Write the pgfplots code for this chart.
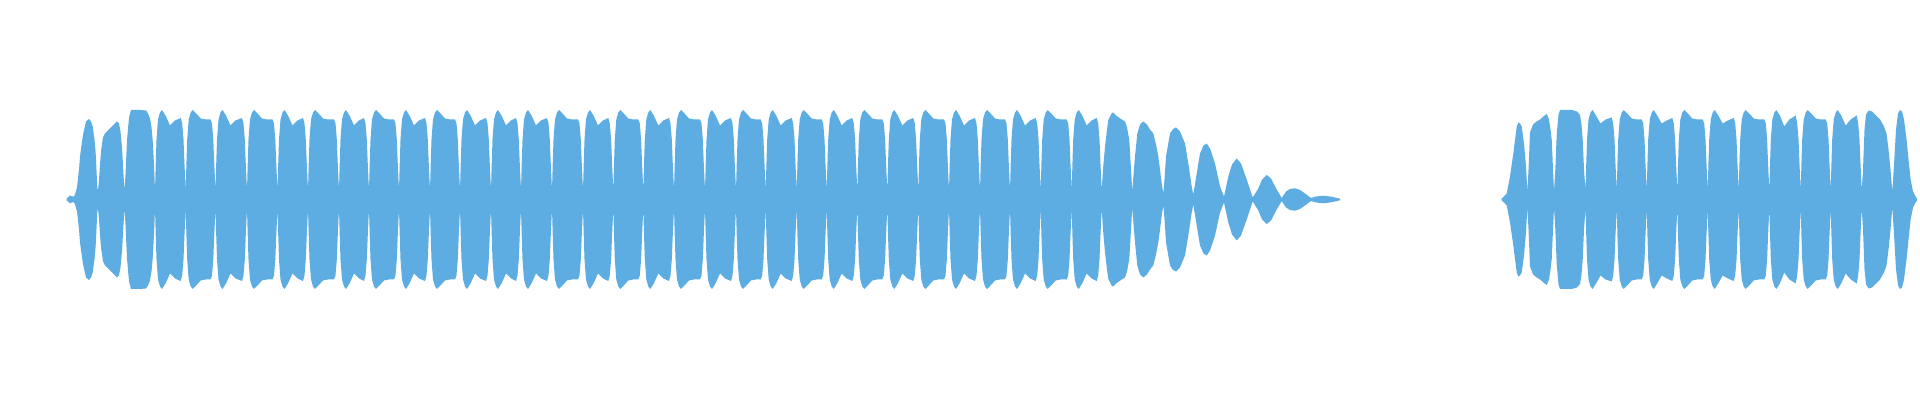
\documentclass[border=0pt]{standalone}
\usepackage{pgfplots}
\pgfplotsset{compat=1.18}
\usepackage{pgfplotstable}
\usepgfplotslibrary{fillbetween}
\definecolor{wave}{HTML}{5DADE2}

% upper envelope of the waveform, x in px, amplitude in px (mirrored below)
\pgfplotstableread[row sep=\\]{
x y \\
66.5 1 \\ 68 2 \\ 70 4 \\ 72 3 \\ 74 3 \\ 75 5 \\ 77 12 \\ 79 30 \\ 80 43 \\ 82 58 \\ 83.3 66 \\ 86 78 \\ 89 80.5 \\ 91 78 \\ 92.7 73 \\ 94.5 60 \\ 95.7 46 \\ 96.7 25 \\ 97.3 12 \\
98 9 \\ 99 20 \\ 100 35 \\ 101 48 \\ 103 62 \\ 105 66 \\ 108 69 \\ 111 72 \\ 114 75 \\ 117 78 \\ 119 76 \\ 120.5 68 \\ 122 52 \\ 123.5 25 \\
124.5 9 \\ 125.5 25 \\ 127 59 \\ 129 82 \\ 131 89.5 \\ 140 89.5 \\ 146 89 \\ 148 86 \\ 150 81 \\ 151.5 72 \\ 152.7 59 \\ 154 35 \\
155 9 \\ 155.7 35 \\ 156.5 60 \\ 158 80 \\ 160 87 \\ 162 89.5 \\ 165.5 84 \\ 170 74 \\ 175 79 \\ 180.7 81.5 \\ 182.2 76 \\ 183.5 60 \\ 184.5 35 \\
185.7 9 \\ 186.4 35 \\ 187.2 60 \\ 188.7 80 \\ 190.7 87 \\ 192.7 89.5 \\ 196.2 86 \\ 200.7 81 \\ 205.7 80 \\ 210.5 80 \\ 212 76 \\ 213.3 60 \\ 214.3 35 \\
215.5 9 \\ 216.2 35 \\ 217 60 \\ 218.5 80 \\ 220.5 87 \\ 222.5 89.5 \\ 226 84 \\ 230.5 74 \\ 235.5 79 \\ 242 81.5 \\ 243.5 76 \\ 244.8 60 \\ 245.8 35 \\
247 9 \\ 247.7 35 \\ 248.5 60 \\ 250 80 \\ 252 87 \\ 254 89.5 \\ 257.5 86 \\ 262 81 \\ 267 80 \\ 272.5 80 \\ 274 76 \\ 275.3 60 \\ 276.3 35 \\
277.5 9 \\ 278.2 35 \\ 279 60 \\ 280.5 80 \\ 282.5 87 \\ 284.5 89.5 \\ 288 84 \\ 292.5 74 \\ 297.5 79 \\ 303 81.5 \\ 304.5 76 \\ 305.8 60 \\ 306.8 35 \\
308 9 \\ 308.7 35 \\ 309.5 60 \\ 311 80 \\ 313 87 \\ 315 89.5 \\ 318.5 86 \\ 323 81 \\ 328 80 \\ 334 80 \\ 335.5 76 \\ 336.8 60 \\ 337.8 35 \\
339 9 \\ 339.7 35 \\ 340.5 60 \\ 342 80 \\ 344 87 \\ 346 89.5 \\ 349.5 84 \\ 354 74 \\ 359 79 \\ 364 81.5 \\ 365.5 76 \\ 366.8 60 \\ 367.8 35 \\
369 9 \\ 369.7 35 \\ 370.5 60 \\ 372 80 \\ 374 87 \\ 376 89.5 \\ 379.5 86 \\ 384 81 \\ 389 80 \\ 394 80 \\ 395.5 76 \\ 396.8 60 \\ 397.8 35 \\
399 9 \\ 399.7 35 \\ 400.5 60 \\ 402 80 \\ 404 87 \\ 406 89.5 \\ 409.5 84 \\ 414 74 \\ 419 79 \\ 425 81.5 \\ 426.5 76 \\ 427.8 60 \\ 428.8 35 \\
430 9 \\ 430.7 35 \\ 431.5 60 \\ 433 80 \\ 435 87 \\ 437 89.5 \\ 440.5 86 \\ 445 81 \\ 450 80 \\ 455 80 \\ 456.5 76 \\ 457.8 60 \\ 458.8 35 \\
460 9 \\ 460.7 35 \\ 461.5 60 \\ 463 80 \\ 465 87 \\ 467 89.5 \\ 470.5 84 \\ 475 74 \\ 480 79 \\ 486 81.5 \\ 487.5 76 \\ 488.8 60 \\ 489.8 35 \\
491 9 \\ 491.7 35 \\ 492.5 60 \\ 494 80 \\ 496 87 \\ 498 89.5 \\ 501.5 84 \\ 506 74 \\ 511 79 \\ 516 81.5 \\ 517.5 76 \\ 518.8 60 \\ 519.8 35 \\
521 9 \\ 521.7 35 \\ 522.5 60 \\ 524 80 \\ 526 87 \\ 528 89.5 \\ 531.5 84 \\ 536 74 \\ 541 79 \\ 547 81.5 \\ 548.5 76 \\ 549.8 60 \\ 550.8 35 \\
552 9 \\ 552.7 35 \\ 553.5 60 \\ 555 80 \\ 557 87 \\ 559 89.5 \\ 562.5 86 \\ 567 81 \\ 572 80 \\ 578 80 \\ 579.5 76 \\ 580.8 60 \\ 581.8 35 \\
583 9 \\ 583.7 35 \\ 584.5 60 \\ 586 80 \\ 588 87 \\ 590 89.5 \\ 593.5 84 \\ 598 74 \\ 603 79 \\ 608.3 81.5 \\ 609.8 76 \\ 611.1 60 \\ 612.1 35 \\
613.3 9 \\ 614 35 \\ 614.8 60 \\ 616.3 80 \\ 618.3 87 \\ 620.3 89.5 \\ 623.8 86 \\ 628.3 81 \\ 633.3 80 \\ 638.3 80 \\ 639.8 76 \\ 641.1 60 \\ 642.1 35 \\
643.3 9 \\ 644 35 \\ 644.8 60 \\ 646.3 80 \\ 648.3 87 \\ 650.3 89.5 \\ 653.8 84 \\ 658.3 74 \\ 663.3 79 \\ 669 81.5 \\ 670.5 76 \\ 671.8 60 \\ 672.8 35 \\
674 9 \\ 674.7 35 \\ 675.5 60 \\ 677 80 \\ 679 87 \\ 681 89.5 \\ 684.5 86 \\ 689 81 \\ 694 80 \\ 700 80 \\ 701.5 76 \\ 702.8 60 \\ 703.8 35 \\
705 9 \\ 705.7 35 \\ 706.5 60 \\ 708 80 \\ 710 87 \\ 712 89.5 \\ 715.5 84 \\ 720 74 \\ 725 79 \\ 731 81.5 \\ 732.5 76 \\ 733.8 60 \\ 734.8 35 \\
736 9 \\ 736.7 35 \\ 737.5 60 \\ 739 80 \\ 741 87 \\ 743 89.5 \\ 746.5 86 \\ 751 81 \\ 756 80 \\ 760.7 80 \\ 762.2 76 \\ 763.5 60 \\ 764.5 35 \\
765.7 9 \\ 766.4 35 \\ 767.2 60 \\ 768.7 80 \\ 770.7 87 \\ 772.7 89.5 \\ 776.2 84 \\ 780.7 74 \\ 785.7 79 \\ 791.7 81.5 \\ 793.2 76 \\ 794.5 60 \\ 795.5 35 \\
796.7 9 \\ 797.4 35 \\ 798.2 60 \\ 799.7 80 \\ 801.7 87 \\ 803.7 89.5 \\ 807.2 86 \\ 811.7 81 \\ 816.7 80 \\ 821.7 80 \\ 823.2 76 \\ 824.5 60 \\ 825.5 35 \\
826.7 9 \\ 827.4 35 \\ 828.2 60 \\ 829.7 80 \\ 831.7 87 \\ 833.7 89.5 \\ 837.2 84 \\ 841.7 74 \\ 846.7 79 \\ 852.3 81.5 \\ 853.8 76 \\ 855.1 60 \\ 856.1 35 \\
857.3 9 \\ 858 35 \\ 858.8 60 \\ 860.3 80 \\ 862.3 87 \\ 864.3 89.5 \\ 867.8 86 \\ 872.3 81 \\ 877.3 80 \\ 882.3 80 \\ 883.8 76 \\ 885.1 60 \\ 886.1 35 \\
887.3 9 \\ 888 35 \\ 888.8 60 \\ 890.3 80 \\ 892.3 87 \\ 894.3 89.5 \\ 897.8 84 \\ 902.3 74 \\ 907.3 79 \\ 913.3 81.5 \\ 914.8 76 \\ 916.1 60 \\ 917.1 35 \\
918.3 9 \\ 919 35 \\ 919.8 60 \\ 921.3 80 \\ 923.3 87 \\ 925.3 89.5 \\ 928.8 86 \\ 933.3 81 \\ 938.3 80 \\ 944 80 \\ 945.5 76 \\ 946.8 60 \\ 947.8 35 \\
949 9 \\ 949.7 35 \\ 950.5 60 \\ 952 80 \\ 954 87 \\ 956 89.5 \\ 959.5 84 \\ 964 74 \\ 969 79 \\ 975 81.5 \\ 976.5 76 \\ 977.8 60 \\ 978.8 35 \\
980 9 \\ 980.7 35 \\ 981.5 60 \\ 983 80 \\ 985 87 \\ 987 89.5 \\ 990.5 86 \\ 995 81 \\ 1000 80 \\ 1005 80 \\ 1006.5 76 \\ 1007.8 60 \\ 1008.8 35 \\
1010 9 \\ 1010.7 35 \\ 1011.5 60 \\ 1013 80 \\ 1015 87 \\ 1017 89.5 \\ 1020.5 84 \\ 1025 74 \\ 1030 79 \\ 1035.7 81.5 \\ 1037.2 76 \\ 1038.5 60 \\ 1039.5 35 \\
1040.7 9 \\ 1041.4 35 \\ 1042.2 60 \\ 1043.7 80 \\ 1045.7 87 \\ 1047.7 89.5 \\ 1051.2 86 \\ 1055.7 81 \\ 1060.7 80 \\ 1066.7 80 \\ 1068.2 76 \\ 1069.5 60 \\ 1070.5 35 \\
1071.7 9 \\ 1072.4 35 \\ 1073.2 60 \\ 1074.7 80 \\ 1076.7 87 \\ 1078.7 89.5 \\ 1082.2 84 \\ 1086.7 74 \\ 1091.7 79 \\ 1096.7 81.5 \\ 1098.2 76 \\ 1099.5 60 \\ 1100.5 35 \\
1101.7 9 \\ 1103 30 \\ 1105 53 \\ 1107 70 \\ 1108.3 79.5 \\ 1111.7 86.3 \\ 1113.3 87 \\ 1116 84 \\ 1121 80.5 \\ 1125 78 \\ 1127 72 \\ 1129.3 59.5 \\ 1131 30 \\
1132.3 8 \\ 1133.5 25 \\ 1135 43 \\ 1137.3 66 \\ 1140 75 \\ 1143.3 78 \\ 1147 75 \\ 1150 70 \\ 1153.3 66 \\ 1156 55 \\ 1158.3 43 \\ 1160 30 \\ 1161.7 16 \\
1163.3 6 \\ 1164.5 20 \\ 1166 43 \\ 1170 66 \\ 1173 70.5 \\ 1176 72 \\ 1180 68 \\ 1185 56 \\ 1188.3 36 \\ 1191.7 13 \\
1193.3 5 \\ 1196.7 26 \\ 1200 46 \\ 1203.5 54 \\ 1206.7 56 \\ 1210 51 \\ 1215 36 \\ 1220 13 \\
1224 3 \\ 1228.3 23 \\ 1232 35 \\ 1236.7 41 \\ 1241 36 \\ 1246.7 20 \\ 1250 10 \\
1252.7 2 \\ 1258.3 11 \\ 1262 20 \\ 1266.7 24.5 \\ 1271 21 \\ 1276.7 10 \\
1281.7 1.5 \\ 1286 8 \\ 1290 10.5 \\ 1295 11.2 \\ 1300 9.5 \\ 1305 6 \\
1311 1.5 \\ 1316 3 \\ 1323 3.8 \\ 1330 3 \\ 1335 2 \\ 1340 0.8 \\
}\segone

\pgfplotstableread[row sep=\\]{
x y \\
1501.7 1 \\ 1504 3 \\ 1506.7 6 \\ 1510 23 \\ 1513.3 46 \\ 1516.7 73 \\ 1518.3 77 \\ 1520 76 \\ 1521.7 73 \\ 1524 56 \\ 1526 33 \\
1527.3 8 \\ 1528.5 30 \\ 1530 67 \\ 1533 75 \\ 1536.7 78 \\ 1540 80 \\ 1544 83.5 \\ 1546.7 85.5 \\ 1549 80 \\ 1550.5 70 \\ 1551.7 60 \\ 1553 30 \\
1554 8 \\ 1555.3 30 \\ 1556.7 65 \\ 1558.5 85 \\ 1560 89.5 \\ 1572 89.5 \\ 1577 88 \\ 1580 84.5 \\ 1581.5 75 \\ 1582.7 60 \\ 1584 30 \\
1585.5 9 \\ 1586.2 35 \\ 1587 60 \\ 1588.5 80 \\ 1590.5 87 \\ 1592.5 89.5 \\ 1596 84 \\ 1600.5 76 \\ 1605.5 80 \\ 1611.7 82 \\ 1613.2 76 \\ 1614.5 60 \\ 1615.5 35 \\
1616.7 9 \\ 1617.4 35 \\ 1618.2 60 \\ 1619.7 80 \\ 1621.7 87 \\ 1623.7 89.5 \\ 1627.2 86 \\ 1631.7 81 \\ 1636.7 80 \\ 1641.7 80 \\ 1643.2 76 \\ 1644.5 60 \\ 1645.5 35 \\
1646.7 9 \\ 1647.4 35 \\ 1648.2 60 \\ 1649.7 80 \\ 1651.7 87 \\ 1653.7 89.5 \\ 1657.2 84 \\ 1661.7 76 \\ 1666.7 79 \\ 1672.3 81.5 \\ 1673.8 76 \\ 1675.1 60 \\ 1676.1 35 \\
1677.3 9 \\ 1678 35 \\ 1678.8 60 \\ 1680.3 80 \\ 1682.3 87 \\ 1684.3 89.5 \\ 1687.8 86 \\ 1692.3 81 \\ 1697.3 80 \\ 1702.7 80 \\ 1704.2 76 \\ 1705.5 60 \\ 1706.5 35 \\
1707.7 9 \\ 1708.4 35 \\ 1709.2 60 \\ 1710.7 80 \\ 1712.7 87 \\ 1714.7 89.5 \\ 1718.2 84 \\ 1722.7 76 \\ 1727.7 79 \\ 1733.7 81.5 \\ 1735.2 76 \\ 1736.5 60 \\ 1737.5 35 \\
1738.7 9 \\ 1739.4 35 \\ 1740.2 60 \\ 1741.7 80 \\ 1743.7 87 \\ 1745.7 89.5 \\ 1749.2 86 \\ 1753.7 81 \\ 1758.7 80 \\ 1764.3 80 \\ 1765.8 76 \\ 1767.1 60 \\ 1768.1 35 \\
1769.3 9 \\ 1770 35 \\ 1770.8 60 \\ 1772.3 80 \\ 1774.3 87 \\ 1776.3 89.5 \\ 1779.8 84 \\ 1784.3 73 \\ 1789.3 80 \\ 1795.7 84 \\ 1797.2 76 \\ 1798.5 60 \\ 1799.5 35 \\
1800.7 9 \\ 1801.4 35 \\ 1802.2 60 \\ 1803.7 80 \\ 1805.7 87 \\ 1807.7 89.5 \\ 1811.2 86 \\ 1815.7 81 \\ 1820.7 80 \\ 1825.7 80 \\ 1827.2 76 \\ 1828.5 60 \\ 1829.5 35 \\
1830.7 9 \\ 1831.4 35 \\ 1832.2 60 \\ 1833.7 80 \\ 1835.7 87 \\ 1837.7 89.5 \\ 1841.2 84 \\ 1845.7 74 \\ 1850.7 80 \\ 1856.7 84 \\ 1858.2 76 \\ 1859.5 60 \\ 1860.5 35 \\
1861.7 9 \\ 1863 30 \\ 1864.5 70 \\ 1866 85 \\ 1868.7 89 \\ 1872 88 \\ 1876 84 \\ 1880 80 \\ 1884 73 \\ 1886.5 66 \\ 1888.5 50 \\ 1890.5 30 \\
1892.3 8 \\ 1894 35 \\ 1896 70 \\ 1898 86 \\ 1900 89.5 \\ 1902 88 \\ 1904 80 \\ 1906.5 60 \\ 1908.5 40 \\ 1910.6 20 \\ 1913 8 \\ 1915.5 3 \\ 1917 1 \\
}\segtwo

\begin{document}
\begin{tikzpicture}
\begin{axis}[
    width=19.2cm, height=4cm,
    scale only axis,
    xmin=0, xmax=1920,
    ymin=-200.5, ymax=199.5,
    hide axis,
]
% first burst
\addplot[draw=none, name path=topA] table[x=x, y=y] {\segone};
\addplot[draw=none, name path=botA] table[x=x, y expr=-\thisrow{y}] {\segone};
\addplot[fill=wave, draw=none] fill between[of=topA and botA];
% second burst
\addplot[draw=none, name path=topB] table[x=x, y=y] {\segtwo};
\addplot[draw=none, name path=botB] table[x=x, y expr=-\thisrow{y}] {\segtwo};
\addplot[fill=wave, draw=none] fill between[of=topB and botB];
\end{axis}
\end{tikzpicture}
\end{document}
